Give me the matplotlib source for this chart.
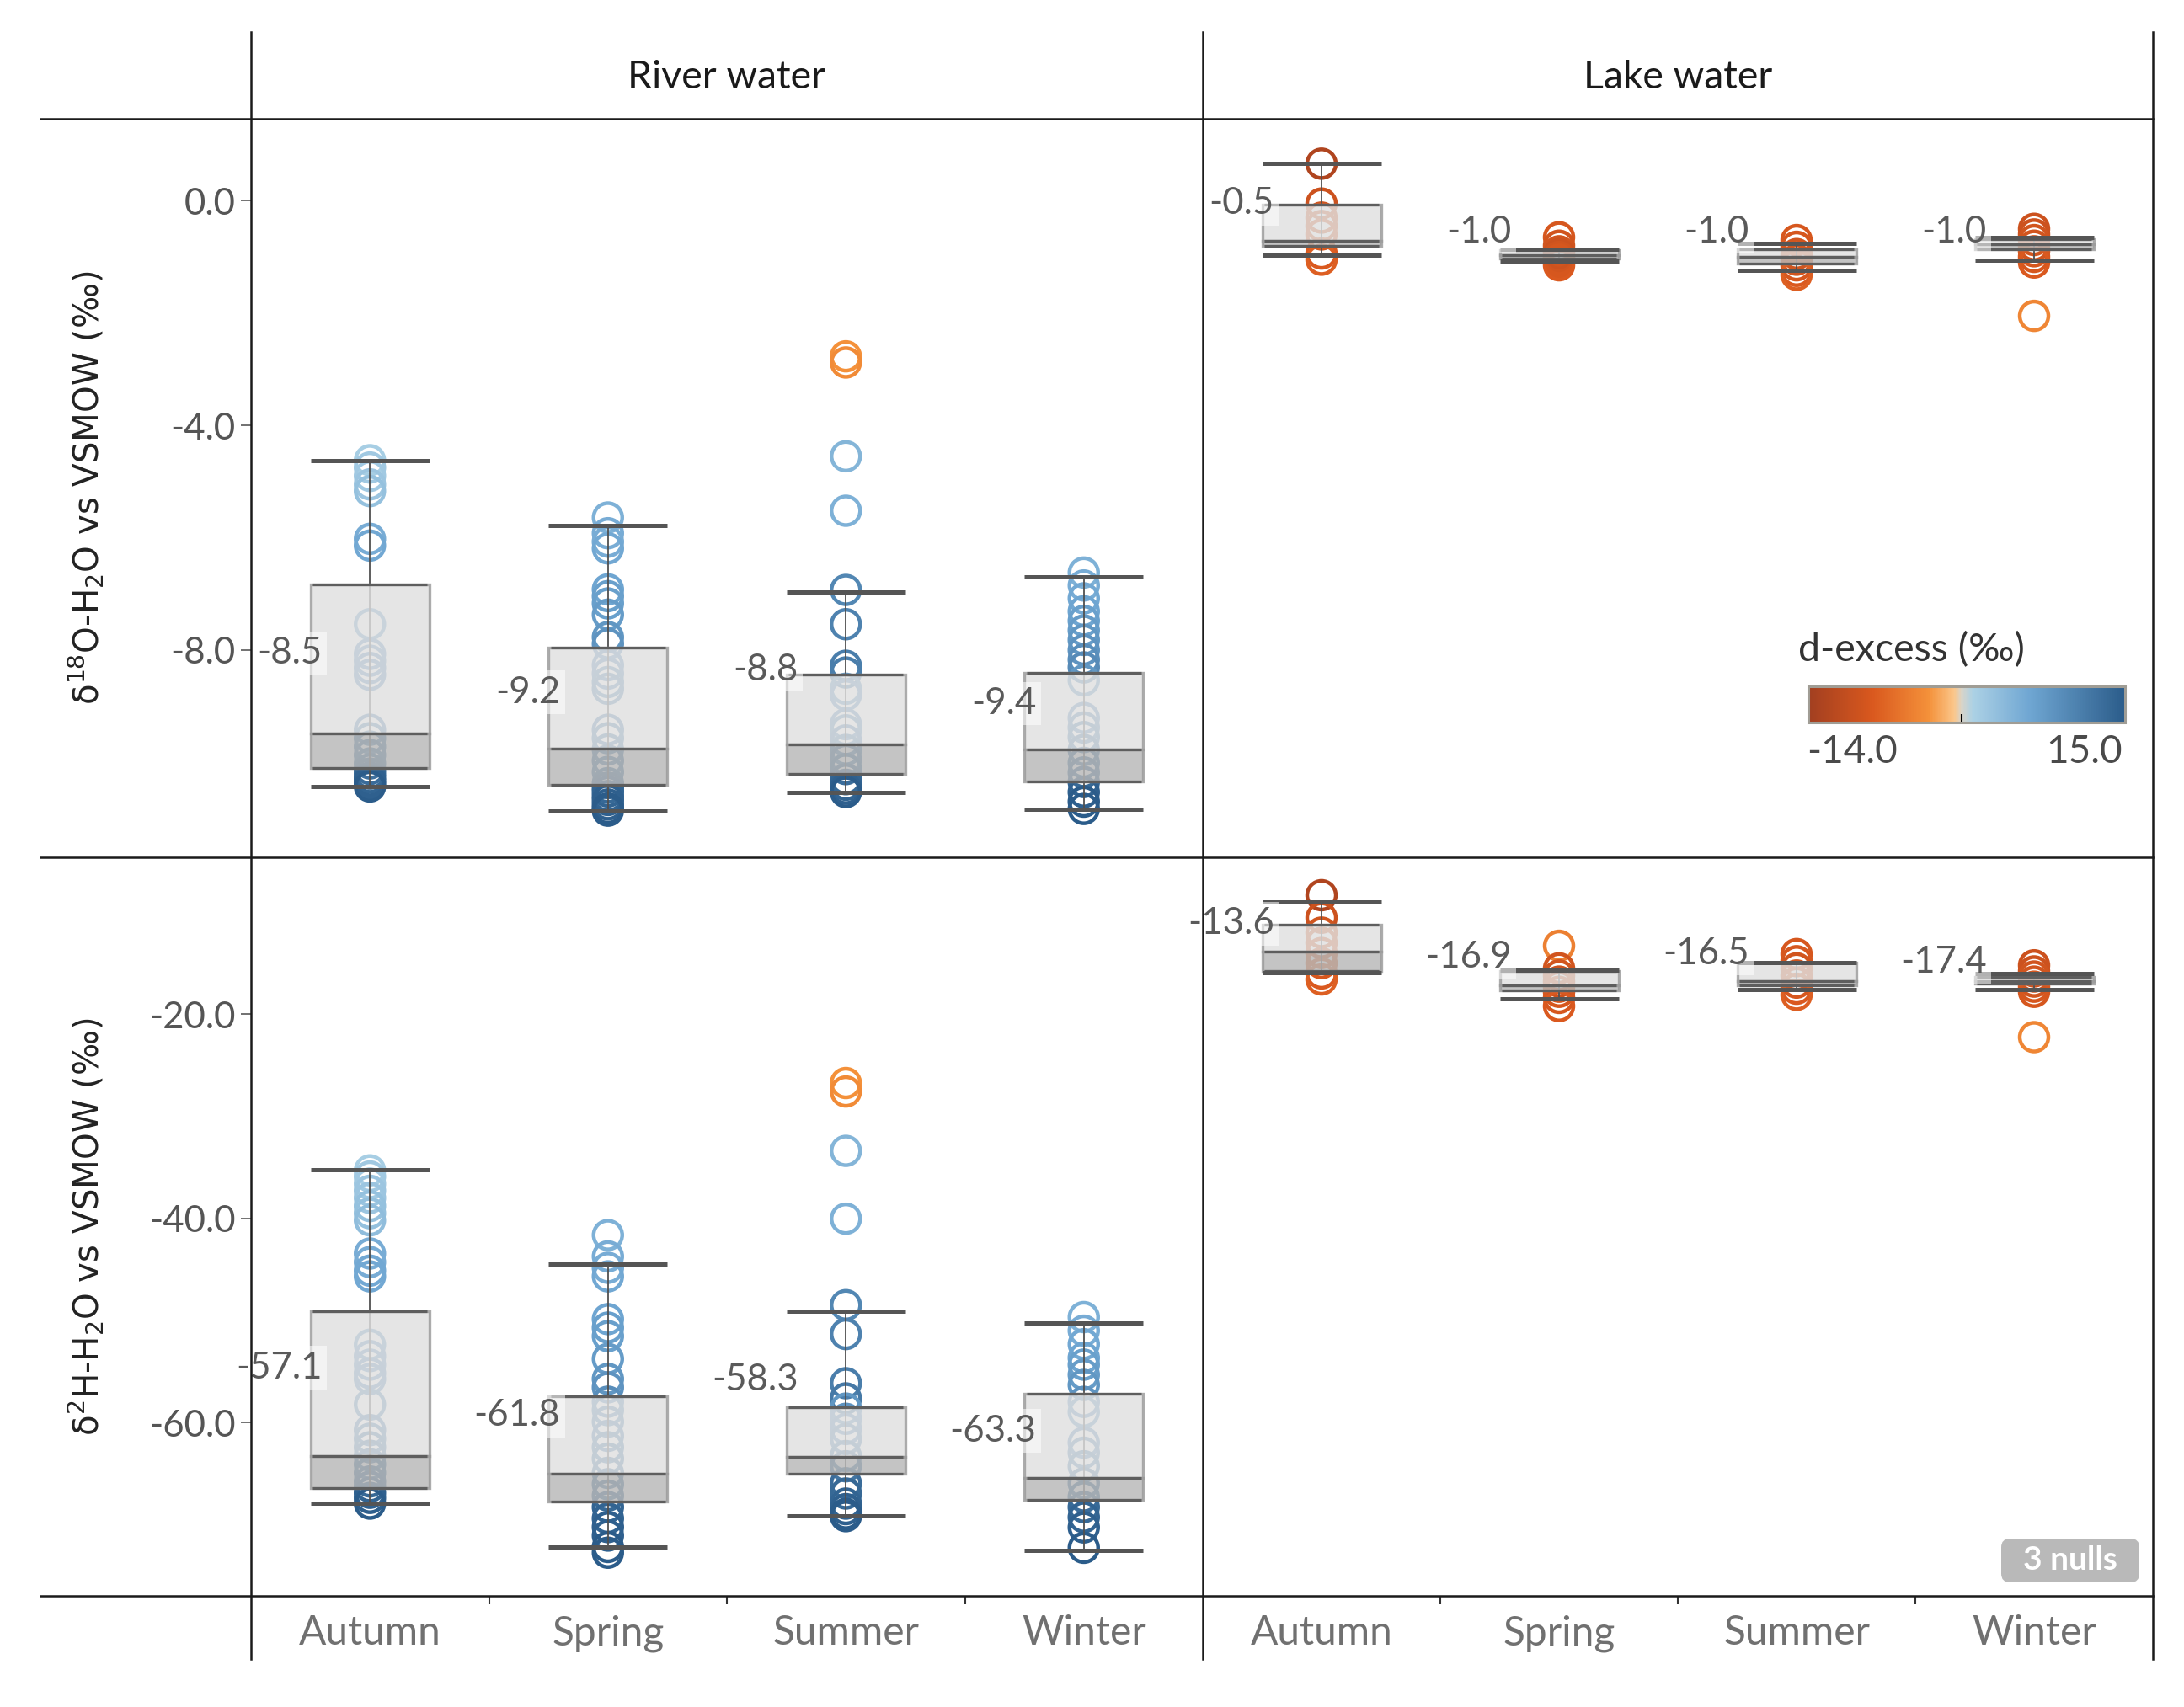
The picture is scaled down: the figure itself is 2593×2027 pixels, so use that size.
import numpy as np
import matplotlib
matplotlib.use("Agg")
import matplotlib.pyplot as plt
import matplotlib.ticker as ticker
from matplotlib.colors import LinearSegmentedColormap, Normalize
from matplotlib.cm import ScalarMappable
from matplotlib.lines import Line2D
from matplotlib.patches import FancyBboxPatch

plt.rcParams["font.family"] = ["Lato", "DejaVu Sans"]

seasons = ["Autumn", "Spring", "Summer", "Winter"]
columns = ["River water", "Lake water"]

# box stats per season: (low whisker, q1, median, q3, high whisker)

# --- δ18O, river water ---
river_o18 = [
    [-4.62, -4.75, -4.90, -5.05, -5.17, -6.02, -6.14, -7.54, -8.07, -8.19, -8.32, -8.44,
     -9.42, -9.57, -9.72, -9.87, -10.02, -10.12, -10.20, -10.27, -10.33, -10.38, -10.43],
    [-5.64, -5.92, -6.07, -6.19, -6.92, -7.04, -7.17, -7.37, -7.77, -7.89, -8.27, -8.42,
     -8.57, -8.69, -9.42, -9.57, -9.77, -9.97, -10.17, -10.37, -10.45, -10.52, -10.60,
     -10.67, -10.75, -10.82, -10.86],
    [-2.77, -2.88, -4.55, -5.52, -6.93, -7.54, -8.28, -8.40, -8.69, -8.80, -9.32, -9.43,
     -9.61, -9.78, -9.95, -10.12, -10.30, -10.40, -10.47, -10.53],
    [-6.62, -6.85, -7.08, -7.31, -7.48, -7.65, -7.82, -8.00, -8.17, -8.31, -8.54, -9.21,
     -9.38, -9.55, -9.78, -10.01, -10.18, -10.35, -10.53, -10.70, -10.83],
]
river_o18_dex = [
    [1.5, 2.0, 2.0, 2.5, 3.0, 5.5, 6.0, 7.5, 8.5, 8.5, 9.0, 9.0, 10.5, 11.0, 11.5, 12.0,
     12.5, 13.0, 13.5, 14.0, 14.5, 14.5, 15.0],
    [5.0, 5.5, 5.5, 6.0, 6.5, 7.0, 7.0, 7.5, 8.0, 8.5, 9.0, 9.0, 9.5, 10.0, 10.5, 11.0,
     11.5, 12.0, 12.5, 13.0, 13.5, 14.0, 14.0, 14.5, 14.5, 15.0, 15.0],
    [-3.0, -3.5, 4.5, 5.0, 10.0, 10.5, 11.0, 11.0, 8.0, 8.5, 9.0, 9.5, 10.5, 11.0, 12.0,
     13.0, 13.5, 14.0, 14.5, 15.0],
    [5.0, 5.5, 6.0, 6.5, 7.0, 7.5, 8.0, 8.5, 9.0, 9.5, 8.0, 9.0, 10.0, 11.0, 12.0, 13.0,
     13.5, 14.0, 14.5, 15.0, 15.0],
]
river_o18_box = [
    (-10.43, -10.10, -9.48, -6.83, -4.63),
    (-10.86, -10.40, -9.76, -7.96, -5.78),
    (-10.53, -10.21, -9.68, -8.44, -6.96),
    (-10.83, -10.34, -9.77, -8.40, -6.70),
]
river_o18_mean = [-8.5, -9.2, -8.8, -9.4]

# --- δ18O, lake water ---
lake_o18 = [
    [0.66, -0.05, -0.30, -0.45, -0.60, -0.94, -1.05],
    [-0.65, -0.80, -0.90, -0.95, -1.00, -1.05, -1.10, -1.15],
    [-0.70, -0.82, -0.95, -1.05, -1.15, -1.25, -1.32],
    [-0.50, -0.60, -0.70, -0.80, -0.90, -1.00, -1.10, -2.05],
]
lake_o18_dex = [
    [-12.5, -9.5, -9.0, -9.0, -8.5, -8.0, -7.5],
    [-8.5, -9.0, -9.0, -9.5, -9.0, -8.5, -8.5, -8.0],
    [-8.5, -8.5, -9.0, -9.0, -8.5, -8.0, -7.5],
    [-9.5, -9.5, -9.0, -9.0, -8.5, -8.5, -8.0, -4.0],
]
lake_o18_box = [
    (-0.97, -0.80, -0.72, -0.07, 0.66),
    (-1.08, -1.03, -0.97, -0.88, -0.86),
    (-1.24, -1.12, -1.00, -0.87, -0.76),
    (-1.06, -0.87, -0.77, -0.68, -0.66),
]
lake_o18_mean = [-0.5, -1.0, -1.0, -1.0]

# --- δ2H, river water ---
river_h2 = [
    [-35.3, -35.9, -36.6, -37.3, -38.0, -38.8, -39.5, -40.2, -43.45, -44.29, -45.13, -45.69,
     -52.39, -53.50, -54.34, -55.18, -55.74, -58.25, -60.76, -61.60, -62.44, -63.27, -64.11,
     -64.95, -65.79, -66.3, -66.9, -67.4, -67.96],
    [-41.64, -43.73, -44.85, -45.69, -49.88, -50.71, -51.55, -53.78, -55.74, -56.57, -57.97,
     -58.80, -59.93, -61.32, -62.44, -63.55, -64.95, -66.06, -67.18, -68.30, -69.41, -70.26,
     -71.09, -72.21, -72.77],
    [-26.74, -27.57, -33.39, -40.04, -48.51, -51.34, -56.16, -57.65, -58.65, -59.65, -60.65,
     -61.64, -63.30, -64.30, -65.97, -66.97, -67.96, -68.50, -68.96, -69.19],
    [-49.68, -51.01, -52.34, -53.67, -54.34, -55.33, -56.33, -57.99, -58.98, -61.98, -62.97,
     -64.30, -65.97, -67.30, -68.30, -69.29, -70.29, -72.29],
]
river_h2_dex = [
    [1.5, 2.0, 2.0, 2.5, 2.5, 3.0, 3.0, 3.5, 5.5, 5.5, 6.0, 6.0, 8.0, 8.5, 8.5, 9.0, 9.0,
     9.5, 10.5, 11.0, 11.5, 12.0, 12.5, 13.0, 13.5, 14.0, 14.5, 14.5, 15.0],
    [5.0, 5.5, 5.5, 6.0, 6.5, 7.0, 7.0, 7.5, 8.0, 8.5, 9.0, 9.5, 10.0, 10.5, 11.0, 11.5,
     12.0, 13.0, 13.5, 14.0, 14.0, 14.5, 14.5, 15.0, 15.0],
    [-3.0, -3.5, 4.5, 5.0, 10.0, 10.5, 11.0, 11.5, 8.0, 8.5, 9.0, 10.0, 11.0, 12.0, 13.0,
     13.5, 14.0, 14.5, 15.0, 15.0],
    [5.0, 5.5, 6.0, 6.5, 7.0, 7.5, 8.0, 8.5, 8.0, 9.0, 10.0, 11.0, 12.0, 13.0, 13.5, 14.0,
     14.5, 15.0],
]
river_h2_box = [
    (-67.96, -66.40, -63.27, -49.09, -35.28),
    (-72.20, -67.74, -65.00, -57.41, -44.52),
    (-69.19, -65.07, -63.38, -58.49, -49.08),
    (-72.55, -67.63, -65.47, -57.16, -50.25),
]
river_h2_mean = [-57.1, -61.8, -58.3, -63.3]

# --- δ2H, lake water ---
lake_h2 = [
    [-8.33, -10.54, -12.0, -13.0, -14.0, -15.0, -16.0, -16.59],
    [-13.29, -15.5, -16.2, -16.8, -17.3, -17.8, -18.4, -19.2],
    [-14.1, -14.8, -15.5, -16.2, -16.9, -17.5, -18.1],
    [-15.2, -15.8, -16.3, -16.8, -17.3, -17.8, -22.24],
]
lake_h2_dex = [
    [-12.5, -9.5, -9.0, -9.0, -8.5, -8.5, -8.0, -7.5],
    [-4.5, -9.0, -9.0, -9.5, -9.0, -8.5, -8.5, -8.0],
    [-8.5, -8.5, -9.0, -9.0, -8.5, -8.0, -7.5],
    [-9.5, -9.5, -9.0, -9.0, -8.5, -8.5, -4.0],
]
lake_h2_box = [
    (-15.90, -15.76, -13.84, -11.22, -9.03),
    (-18.46, -17.70, -17.14, -15.76, -15.70),
    (-17.56, -17.20, -16.73, -14.94, -14.90),
    (-17.56, -17.00, -16.73, -16.32, -16.00),
]
lake_h2_mean = [-13.6, -16.9, -16.5, -17.4]

dex_range = (-14.0, 15.0)

cmap = LinearSegmentedColormap.from_list(
    "orange_blue",
    [(0.0, "#a23f20"), (0.2, "#d9581e"), (0.38, "#f4913a"), (0.46, "#fbc68a"),
     (0.483, "#d9d4c8"), (0.52, "#acd1e5"), (0.7, "#6fa6d2"), (1.0, "#2b5c8a")],
)
norm = Normalize(*dex_range)

W, H = 2593, 2027
fig = plt.figure(figsize=(W / 100, H / 100), dpi=100)


def fx(px):
    return px / W


def fy(px):
    return 1 - px / H


x_left, x_mid, x_right = 298, 1428, 2556
y_head, y_mid, y_bot = 141, 1018, 1895

ax_pos = {
    (0, 0): [fx(x_left), fy(y_mid), fx(x_mid - x_left), (y_mid - y_head) / H],
    (0, 1): [fx(x_mid), fy(y_mid), fx(x_right - x_mid), (y_mid - y_head) / H],
    (1, 0): [fx(x_left), fy(y_bot), fx(x_mid - x_left), (y_bot - y_mid) / H],
    (1, 1): [fx(x_mid), fy(y_bot), fx(x_right - x_mid), (y_bot - y_mid) / H],
}


def draw_panel(ax, points, dex, boxes, means):
    for i, (vals, d) in enumerate(zip(points, dex)):
        ax.scatter(np.full(len(vals), i), vals, s=600, facecolors="none",
                   edgecolors=cmap(norm(np.array(d))), linewidths=3.2, zorder=2)

    lo, q1, med, q3, hi = np.array(boxes).T
    x = np.arange(len(boxes))
    ax.vlines(x, lo, hi, color="#505050", linewidth=1.3, zorder=2.5)
    ax.bar(x, q3 - med, bottom=med, width=0.5, color="#e0e0e0", alpha=0.82,
           edgecolor="#9a9a9a", linewidth=2.4, zorder=3)
    ax.bar(x, med - q1, bottom=q1, width=0.5, color="#b8b8b8", alpha=0.82,
           edgecolor="#9a9a9a", linewidth=2.4, zorder=3)
    for level in (q1, med, q3):
        ax.hlines(level, x - 0.24, x + 0.24, color="#5e5e5e", linewidth=2.3, zorder=3.5)
    for level in (lo, hi):
        ax.hlines(level, x - 0.25, x + 0.25, color="#555555", linewidth=3.6, zorder=4)

    for i, m in enumerate(means):
        ax.annotate(f"{m:.1f}", xy=(i - 0.2, m), xytext=(0, 21.5),
                    textcoords="offset points", ha="right", va="center",
                    fontsize=31.5, color="#5a5a5a", zorder=5,
                    bbox=dict(boxstyle="square,pad=0.12", fc="white", ec="none", alpha=0.55))

    ax.set_xlim(-0.5, len(boxes) - 0.5)
    for side in ("left", "right", "top", "bottom"):
        ax.spines[side].set_visible(False)
    ax.set_facecolor("none")


panels = {
    (0, 0): (river_o18, river_o18_dex, river_o18_box, river_o18_mean),
    (0, 1): (lake_o18, lake_o18_dex, lake_o18_box, lake_o18_mean),
    (1, 0): (river_h2, river_h2_dex, river_h2_box, river_h2_mean),
    (1, 1): (lake_h2, lake_h2_dex, lake_h2_box, lake_h2_mean),
}
row_limits = [(-11.69, 1.46), (-77.0, -4.62)]
row_ticks = [[0.0, -4.0, -8.0], [-20.0, -40.0, -60.0]]

for (r, c), (pts, dex, boxes, means) in panels.items():
    ax = fig.add_axes(ax_pos[(r, c)])
    draw_panel(ax, pts, dex, boxes, means)
    ax.set_ylim(*row_limits[r])
    ax.set_yticks(row_ticks[r])
    ax.yaxis.set_major_formatter(ticker.FormatStrFormatter("%.1f"))
    ax.tick_params(axis="y", length=9, width=1.3, color="#666666", pad=4,
                   labelsize=31.5, labelcolor="#555555")
    if c == 1:
        ax.tick_params(axis="y", left=False, labelleft=False)
    ax.set_xticks(range(len(seasons)))
    if r == 1:
        ax.set_xticklabels(seasons)
        ax.set_xticks(np.arange(0.5, len(seasons) - 1, 1.0), minor=True)
        ax.tick_params(axis="x", which="major", length=0, pad=16, labelsize=34.5,
                       labelcolor="#707070")
        ax.tick_params(axis="x", which="minor", length=7, width=1.5, color="#333333")
    else:
        ax.tick_params(axis="x", bottom=False, labelbottom=False)

# column headers
for c, name in enumerate(columns):
    xc = (x_left + x_mid) / 2 if c == 0 else (x_mid + x_right) / 2
    fig.text(fx(xc), fy(92), name, ha="center", va="center", fontsize=33.5, color="#1a1a1a")

# row titles
fig.text(fx(103), fy((y_head + y_mid) / 2), r"δ$^{18}$O-H$_{2}$O vs VSMOW (‰)",
         rotation=90, ha="center", va="center", fontsize=29, color="#222222",
         family="DejaVu Sans")
fig.text(fx(103), fy((y_mid + y_bot) / 2), r"δ$^{2}$H-H$_{2}$O vs VSMOW (‰)",
         rotation=90, ha="center", va="center", fontsize=29, color="#222222",
         family="DejaVu Sans")

# frame lines
for xv in (x_left, x_mid, x_right):
    fig.add_artist(Line2D([fx(xv), fx(xv)], [fy(38), fy(1970)], color="#1a1a1a", linewidth=1.8))
for yv in (y_head, y_mid, y_bot):
    fig.add_artist(Line2D([fx(48), fx(x_right)], [fy(yv), fy(yv)], color="#1a1a1a", linewidth=1.8))

# colour legend
cax = fig.add_axes([fx(2147), fy(858), fx(376), 43 / H])
cbar = fig.colorbar(ScalarMappable(norm=norm, cmap=cmap), cax=cax, orientation="horizontal")
cbar.set_ticks([0.0])
cbar.ax.tick_params(axis="x", direction="in", length=7, width=1.5, color="black",
                    labelbottom=False)
cbar.outline.set_edgecolor("#a09d95")
cbar.outline.set_linewidth(2.2)
fig.text(fx(2135), fy(772), "d-excess (‰)", ha="left", va="center", fontsize=33.5,
         color="#333333")
fig.text(fx(2145), fy(893), f"{dex_range[0]:.1f}", ha="left", va="center", fontsize=33,
         color="#4a4a4a")
fig.text(fx(2520), fy(893), f"{dex_range[1]:.1f}", ha="right", va="center", fontsize=33,
         color="#4a4a4a")

# nulls indicator
fig.add_artist(FancyBboxPatch((fx(2376), fy(1879)), fx(164), 52 / H,
                              boxstyle="round,pad=0,rounding_size=0.004",
                              mutation_aspect=W / H, transform=fig.transFigure,
                              facecolor="#b9b9b9", edgecolor="none"))
fig.text(fx(2458), fy(1853), "3 nulls", ha="center", va="center", fontsize=28,
         fontweight="bold", color="white")

fig.savefig("out.png", dpi=100)
